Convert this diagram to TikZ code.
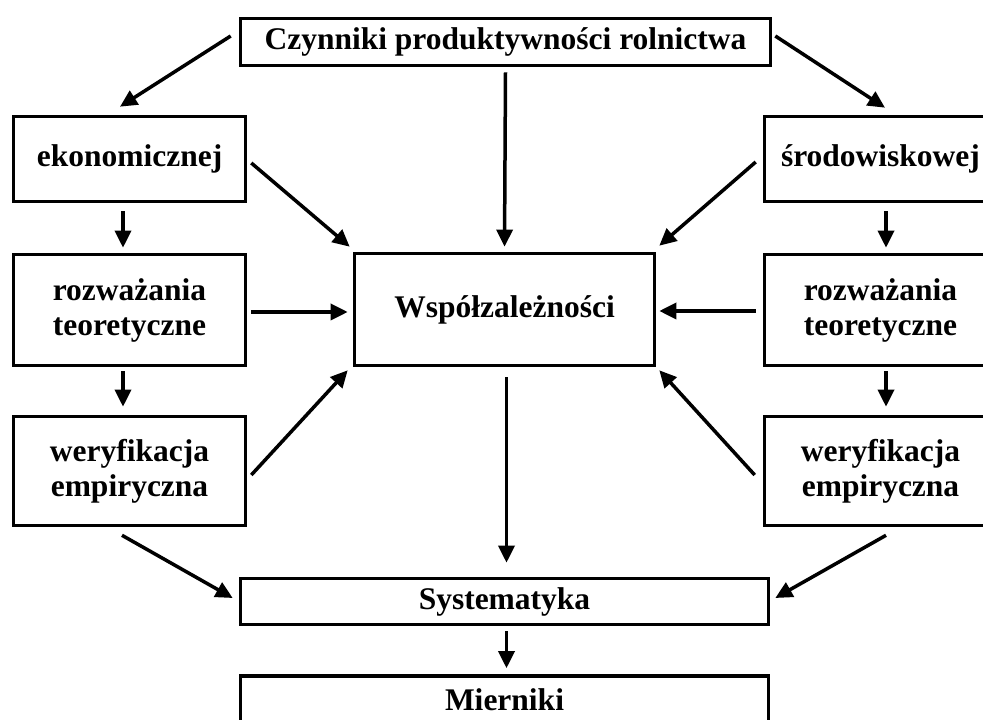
\documentclass[tikz,border=0pt]{standalone}
\usepackage{fontspec}
\setmainfont{Liberation Serif}
\usetikzlibrary{arrows.meta}
\begin{document}
\begin{tikzpicture}[x=1pt,y=1pt,
  box/.style={draw, line width=3.6pt, inner sep=0pt, align=center,
    font=\fontsize{31.5}{35}\selectfont\bfseries},
  sidebox/.style={box, minimum width=232pt},
  link/.style={line width=3.5pt, -{Triangle[length=17pt,width=16pt]}}]
\useasboundingbox (0,0) rectangle (983,720);
\clip (0,0) rectangle (983,720);

% boxes
\node[box, minimum width=530pt, minimum height=47pt] (top) at (505.5,678) {Czynniki produktywności rolnictwa};
\node[sidebox, minimum height=85pt]  (eko)  at (129.5,561) {ekonomicznej};
\node[sidebox, minimum height=111pt] (rozL) at (129.5,410) {rozważania\\teoretyczne};
\node[sidebox, minimum height=109pt] (werL) at (129.5,249) {weryfikacja\\empiryczna};
\node[sidebox, minimum height=85pt]  (srod) at (880.5,561) {środowiskowej};
\node[sidebox, minimum height=111pt] (rozR) at (880.5,410) {rozważania\\teoretyczne};
\node[sidebox, minimum height=109pt] (werR) at (880.5,249) {weryfikacja\\empiryczna};
\node[box, minimum width=300pt, minimum height=112pt] (cen) at (504.5,410.5) {Współzależności};
\node[box, minimum width=528pt, minimum height=46pt] (sys) at (504.5,118.5) {Systematyka};
\node[box, minimum width=528pt, minimum height=48pt] (mier) at (504.5,20) {Mierniki};

% connectors
\draw[link] ([shift={(-8,6)}]top.west) -- ([shift={(-9.5,8)}]eko.north);
\draw[link] ([shift={(3,6)}]top.east) -- ([shift={(4.5,7)}]srod.north);
\draw[link] ([yshift=-5]top.south) -- ([yshift=5]cen.north);
\draw[link] ([shift={(4,-4)}]eko.east) -- ([shift={(-3,5)}]cen.north west);
\draw[link] ([shift={(-7,-3)}]srod.west) -- ([shift={(3,6)}]cen.north east);
\draw[link] ([shift={(4,-2)}]rozL.east) -- ([shift={(-5,-2.5)}]cen.west);
\draw[link] ([shift={(-7,-1)}]rozR.west) -- ([shift={(3,-1.5)}]cen.east);
\draw[link] ([shift={(4,-4)}]werL.east) -- ([shift={(-5,-3)}]cen.south west);
\draw[link] ([shift={(-8,-4)}]werR.west) -- ([shift={(3,-3)}]cen.south east);
\draw[link] ([shift={(2,-10)}]cen.south) -- ([shift={(2,14)}]sys.north);
\draw[link] ([shift={(2,-5)}]sys.south) -- ([shift={(2,6)}]mier.north);
\draw[link] ([shift={(-7.5,-8)}]werL.south) -- ([shift={(-6,3.5)}]sys.west);
\draw[link] ([shift={(5.5,-8)}]werR.south) -- ([shift={(5,3.5)}]sys.east);
\draw[link] ([shift={(-6.5,-8)}]eko.south) -- ([shift={(-6.5,5)}]rozL.north);
\draw[link] ([shift={(-6.5,-4)}]rozL.south) -- ([shift={(-6.5,8)}]werL.north);
\draw[link] ([shift={(5.5,-8)}]srod.south) -- ([shift={(5.5,5)}]rozR.north);
\draw[link] ([shift={(5.5,-4)}]rozR.south) -- ([shift={(5.5,8)}]werR.north);
\end{tikzpicture}
\end{document}
